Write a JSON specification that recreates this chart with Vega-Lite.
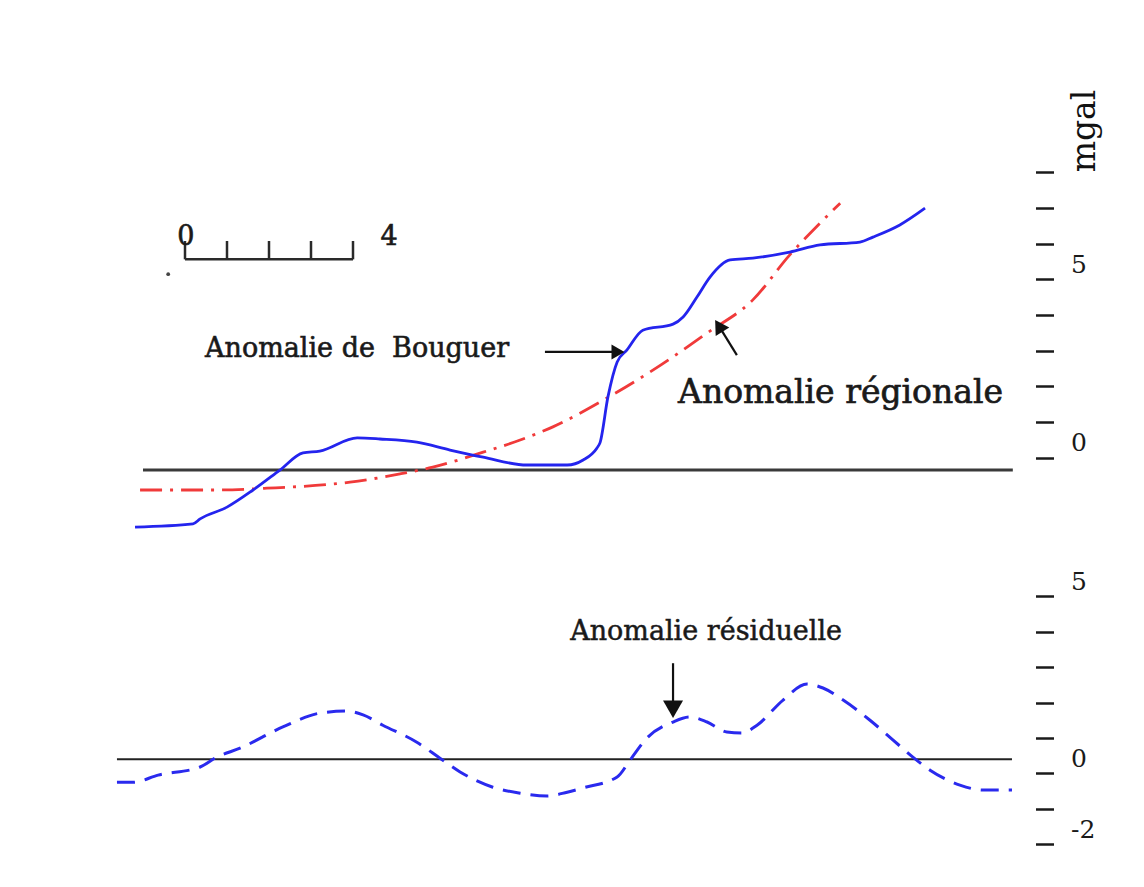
{
  "$schema": "https://vega.github.io/schema/vega-lite/v6.json",
  "padding": {"left": 101, "top": 83, "right": 5, "bottom": 5},
  "background": "white",
  "bounds": "flush",
  "spacing": 39,
  "config": {"view": {"stroke": null}, "font": "DejaVu Serif"},
  "datasets": {
    "bouguer": [
      {"km": -1.19, "v": -1.95}, {"km": 0.19, "v": -1.86}, {"km": 0.36, "v": -1.72}, {"km": 1.0, "v": -1.39},
      {"km": 1.62, "v": -0.91}, {"km": 2.26, "v": -0.35}, {"km": 2.81, "v": 0.13}, {"km": 3.21, "v": 0.18},
      {"km": 4.10, "v": 0.55}, {"km": 4.64, "v": 0.52}, {"km": 5.52, "v": 0.43}, {"km": 6.31, "v": 0.21},
      {"km": 7.10, "v": 0.01}, {"km": 8.14, "v": -0.21}, {"km": 9.10, "v": -0.21}, {"km": 9.48, "v": -0.07},
      {"km": 9.81, "v": 0.27}, {"km": 9.88, "v": 0.41}, {"km": 10.07, "v": 1.70}, {"km": 10.29, "v": 2.68},
      {"km": 10.52, "v": 3.01}, {"km": 10.90, "v": 3.57}, {"km": 11.62, "v": 3.74}, {"km": 11.86, "v": 3.94},
      {"km": 12.19, "v": 4.50}, {"km": 12.50, "v": 5.06}, {"km": 12.98, "v": 5.54}, {"km": 13.52, "v": 5.59},
      {"km": 14.40, "v": 5.76}, {"km": 15.12, "v": 5.96}, {"km": 16.07, "v": 6.04}, {"km": 16.38, "v": 6.18},
      {"km": 17.02, "v": 6.52}, {"km": 17.62, "v": 6.99}
    ],
    "regional": [
      {"km": -1.07, "v": -0.91}, {"km": 0.76, "v": -0.91}, {"km": 1.95, "v": -0.86}, {"km": 3.93, "v": -0.69},
      {"km": 5.12, "v": -0.46}, {"km": 5.90, "v": -0.27}, {"km": 7.10, "v": 0.15}, {"km": 7.98, "v": 0.49},
      {"km": 8.76, "v": 0.86}, {"km": 10.05, "v": 1.67}, {"km": 11.14, "v": 2.45}, {"km": 12.43, "v": 3.49},
      {"km": 13.52, "v": 4.42}, {"km": 14.40, "v": 5.68}, {"km": 15.12, "v": 6.57}, {"km": 15.60, "v": 7.13}
    ],
    "residual": [
      {"km": -1.62, "v": -0.25}, {"km": -1.24, "v": -0.25}, {"km": -0.64, "v": -0.05}, {"km": 0.36, "v": 0.18},
      {"km": 0.76, "v": 0.46}, {"km": 1.31, "v": 0.71}, {"km": 2.33, "v": 1.31}, {"km": 3.21, "v": 1.70},
      {"km": 3.86, "v": 1.76}, {"km": 4.24, "v": 1.65}, {"km": 4.71, "v": 1.36}, {"km": 5.52, "v": 0.88},
      {"km": 6.07, "v": 0.43}, {"km": 6.55, "v": 0.04}, {"km": 7.33, "v": -0.39}, {"km": 7.98, "v": -0.56},
      {"km": 8.62, "v": -0.64}, {"km": 9.10, "v": -0.53}, {"km": 9.48, "v": -0.41}, {"km": 10.29, "v": -0.10},
      {"km": 10.60, "v": 0.38}, {"km": 11.00, "v": 1.00}, {"km": 11.62, "v": 1.45}, {"km": 12.02, "v": 1.59},
      {"km": 12.43, "v": 1.45}, {"km": 12.90, "v": 1.17}, {"km": 13.26, "v": 1.14}, {"km": 13.62, "v": 1.36},
      {"km": 14.24, "v": 2.07}, {"km": 14.81, "v": 2.52}, {"km": 15.19, "v": 2.41}, {"km": 15.67, "v": 2.07},
      {"km": 16.31, "v": 1.50}, {"km": 16.86, "v": 0.94}, {"km": 17.33, "v": 0.46}, {"km": 17.74, "v": 0.09},
      {"km": 18.45, "v": -0.33}, {"km": 19.00, "v": -0.47}, {"km": 19.69, "v": -0.47}
    ],
    "upper_zero": [{"km": -1.0, "v": -0.35, "km2": 19.71, "v2": -0.35}],
    "lower_zero": [{"km": -1.62, "v": 0.40, "km2": 19.69, "v2": 0.40}],
    "scalebar": [
      {"km": 0, "v": 5.556, "km2": 4, "v2": 5.556},
      {"km": 0, "v": 5.556, "km2": 0, "v2": 6.07},
      {"km": 1, "v": 5.556, "km2": 1, "v2": 6.07},
      {"km": 2, "v": 5.556, "km2": 2, "v2": 6.07},
      {"km": 3, "v": 5.556, "km2": 3, "v2": 6.07},
      {"km": 4, "v": 5.556, "km2": 4, "v2": 6.07}
    ],
    "scale_labels": [{"km": 0.02, "v": 5.96, "label": "0"}, {"km": 4.86, "v": 5.96, "label": "4"}],
    "scale_dot": [{"km": -0.40, "v": 5.14}],
    "upper_arrows": [
      {"km": 8.57, "v": 2.96, "km2": 10.25, "v2": 2.96},
      {"km": 13.14, "v": 2.87, "km2": 12.71, "v2": 3.69}
    ],
    "head_bouguer": [{"km": 10.31, "v": 2.96}],
    "head_regional": [{"km": 12.71, "v": 3.69}],
    "lower_arrow": [{"km": 11.62, "v": 3.11, "km2": 11.62, "v2": 1.93}],
    "head_residual": [{"km": 11.62, "v": 1.81}],
    "label_bouguer": [{"km": 0.476, "v": 2.82, "label": "Anomalie de\u00a0 Bouguer"}],
    "label_regional": [{"km": 11.74, "v": 1.53, "label": "Anomalie régionale"}],
    "label_residual": [{"km": 9.17, "v": 3.76, "label": "Anomalie résiduelle"}]
  },
  "vconcat": [
    {
      "width": 934.5,
      "height": 453,
      "encoding": {
        "x": {"field": "km", "type": "quantitative", "scale": {"domain": [-2, 20.25], "nice": false, "zero": false}, "axis": null},
        "y": {
          "field": "v", "type": "quantitative",
          "scale": {"domain": [-2.2, 10.5], "nice": false, "zero": false},
          "axis": {
            "orient": "right", "values": [0, 1, 2, 3, 4, 5, 6, 7, 8],
            "domain": false, "grid": false, "tickSize": 18, "tickWidth": 2.5, "tickColor": "#1a1a1a",
            "labelExpr": "datum.value == 0 ? '0' : datum.value == 5 ? '5' : ''",
            "labelFont": "DejaVu Serif", "labelFontSize": 25, "labelColor": "#1a1a1a",
            "labelPadding": 17, "labelOffset": -15, "labelFlush": false, "labelOverlap": false,
            "title": "mgal", "titleAngle": 270, "titleX": 48.5, "titleY": 47.5,
            "titleFont": "DejaVu Serif", "titleFontSize": 33, "titleFontWeight": "normal",
            "titleAlign": "center", "titleBaseline": "middle", "titleColor": "#111111"
          }
        }
      },
      "layer": [
        {"data": {"name": "upper_zero"}, "mark": {"type": "rule", "color": "#3a3a3a", "strokeWidth": 3},
         "encoding": {"x2": {"field": "km2"}, "y2": {"field": "v2"}}},
        {"data": {"name": "regional"}, "mark": {"type": "line", "color": "#f03a3a", "strokeWidth": 2.8, "strokeDash": [22, 8, 3, 8], "interpolate": "monotone"}},
        {"data": {"name": "bouguer"}, "mark": {"type": "line", "color": "#2424ee", "strokeWidth": 2.8, "interpolate": "monotone"}},
        {"data": {"name": "scalebar"}, "mark": {"type": "rule", "color": "#2a2a2a", "strokeWidth": 2.5},
         "encoding": {"x2": {"field": "km2"}, "y2": {"field": "v2"}}},
        {"data": {"name": "scale_labels"}, "mark": {"type": "text", "font": "DejaVu Serif", "fontSize": 27, "align": "center", "baseline": "alphabetic", "color": "#1a1a1a", "stroke": "#1a1a1a", "strokeWidth": 0.6},
         "encoding": {"text": {"field": "label"}}},
        {"data": {"name": "scale_dot"}, "mark": {"type": "point", "filled": true, "size": 14, "color": "#444444", "opacity": 1}},
        {"data": {"name": "upper_arrows"}, "mark": {"type": "rule", "color": "#111111", "strokeWidth": 2.2},
         "encoding": {"x2": {"field": "km2"}, "y2": {"field": "v2"}}},
        {"data": {"name": "head_bouguer"}, "mark": {"type": "point", "shape": "triangle-right", "filled": true, "size": 225, "color": "#111111", "opacity": 1}},
        {"data": {"name": "head_regional"}, "mark": {"type": "point", "shape": "triangle-up", "angle": 328, "filled": true, "size": 256, "color": "#111111", "opacity": 1}},
        {"data": {"name": "label_bouguer"}, "mark": {"type": "text", "font": "DejaVu Serif", "fontSize": 27, "align": "left", "baseline": "alphabetic", "color": "#1a1a1a", "stroke": "#1a1a1a", "strokeWidth": 0.6},
         "encoding": {"text": {"field": "label"}}},
        {"data": {"name": "label_regional"}, "mark": {"type": "text", "font": "DejaVu Serif", "fontSize": 33, "align": "left", "baseline": "alphabetic", "color": "#1a1a1a", "stroke": "#1a1a1a", "strokeWidth": 0.7},
         "encoding": {"text": {"field": "label"}}}
      ]
    },
    {
      "width": 934.5,
      "height": 290.5,
      "encoding": {
        "x": {"field": "km", "type": "quantitative", "scale": {"domain": [-2, 20.25], "nice": false, "zero": false}, "axis": null},
        "y": {
          "field": "v", "type": "quantitative",
          "scale": {"domain": [-2.6, 5.6], "nice": false, "zero": false},
          "axis": {
            "orient": "right", "values": [-2, -1, 0, 1, 2, 3, 4, 5],
            "domain": false, "grid": false, "tickSize": 18, "tickWidth": 2.5, "tickColor": "#1a1a1a",
            "labelExpr": "datum.value == 0 ? '0' : datum.value == 5 ? '5' : datum.value == -2 ? '-2' : ''",
            "labelFont": "DejaVu Serif", "labelFontSize": 25, "labelColor": "#1a1a1a",
            "labelPadding": 17, "labelOffset": -15, "labelFlush": false, "labelOverlap": false,
            "title": null
          }
        }
      },
      "layer": [
        {"data": {"name": "lower_zero"}, "mark": {"type": "rule", "color": "#222222", "strokeWidth": 2},
         "encoding": {"x2": {"field": "km2"}, "y2": {"field": "v2"}}},
        {"data": {"name": "residual"}, "mark": {"type": "line", "color": "#2a2aee", "strokeWidth": 3, "strokeDash": [18, 10], "interpolate": "monotone"}},
        {"data": {"name": "lower_arrow"}, "mark": {"type": "rule", "color": "#111111", "strokeWidth": 2.2},
         "encoding": {"x2": {"field": "km2"}, "y2": {"field": "v2"}}},
        {"data": {"name": "head_residual"}, "mark": {"type": "point", "shape": "triangle-down", "filled": true, "size": 400, "color": "#111111", "opacity": 1}},
        {"data": {"name": "label_residual"}, "mark": {"type": "text", "font": "DejaVu Serif", "fontSize": 27, "align": "left", "baseline": "alphabetic", "color": "#1a1a1a", "stroke": "#1a1a1a", "strokeWidth": 0.5},
         "encoding": {"text": {"field": "label"}}}
      ]
    }
  ]
}
